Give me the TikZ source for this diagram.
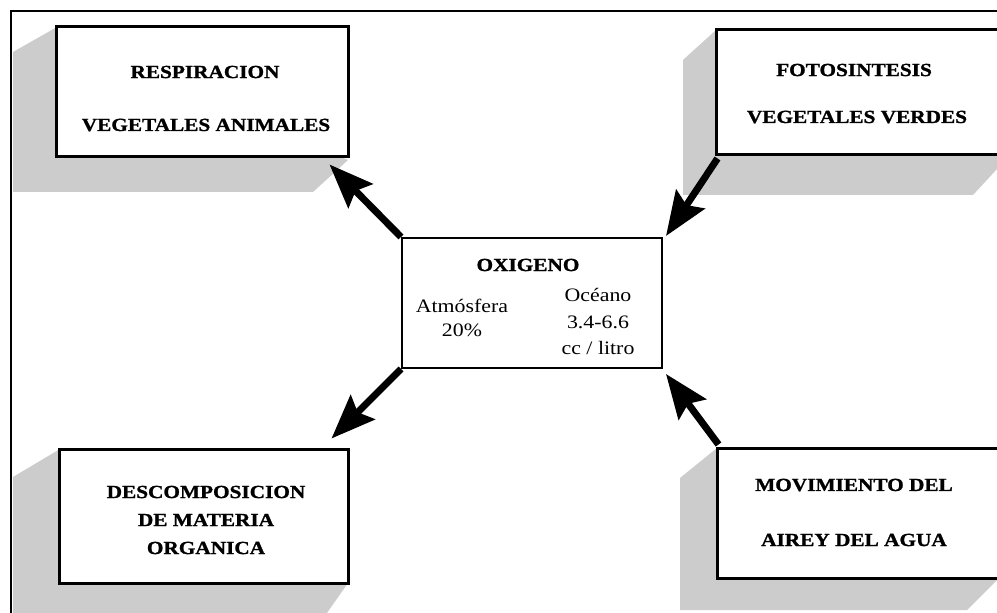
\documentclass[tikz,border=0pt]{standalone}
\usepackage{fontspec}
\setmainfont{Liberation Serif}[FakeStretch=1.15, BoldFeatures={FakeBold=1.2}]
\usetikzlibrary{arrows.meta}
\definecolor{shadowgray}{RGB}{204,204,204}
\tikzset{
  bigbox/.style={draw, line width=3bp, fill=white, inner sep=0pt},
  midbox/.style={draw, line width=2bp, fill=white, inner sep=0pt},
  shade/.style={fill=shadowgray, draw=none},
  btxt/.style={inner sep=0pt, font=\fontsize{18.5bp}{20bp}\selectfont\bfseries},
  rtxt/.style={inner sep=0pt, font=\fontsize{19bp}{21bp}\selectfont},
  fatarrow/.style={line width=7bp, -{Stealth[length=44bp,width=34bp,inset=7bp]}}
}
\begin{document}
\begin{tikzpicture}[x=1bp,y=-1bp]
\useasboundingbox (0,0) rectangle (997,613);
\clip (0,0) rectangle (997,613);
\fill[white] (0,0) rectangle (997,613);
% shadows
\fill[shade] (57,27) -- (13,52) -- (13,192) -- (313,192) -- (348,160) -- cycle;
\fill[shade] (716,30) -- (683,60) -- (683,195) -- (973,195) -- (1010,155) -- cycle;
\fill[shade] (60,449) -- (13,477) -- (13,620) -- (322,620) -- (348,583) -- cycle;
\fill[shade] (717,448) -- (680,478) -- (680,610) -- (967,610) -- (1005,572) -- cycle;
% frame
\draw[line width=2bp] (11,1000) -- (11,11) -- (1100,11);
% boxes
\node[bigbox, minimum width=291bp, minimum height=130bp] (tl) at (202.5,92) {};
\node[bigbox, minimum width=284bp, minimum height=125bp] (tr) at (858,92.5) {};
\node[bigbox, minimum width=288bp, minimum height=134bp] (bl) at (204,516) {};
\node[bigbox, minimum width=283bp, minimum height=130bp] (br) at (858.5,513) {};
\node[midbox, minimum width=260bp, minimum height=130bp] (c) at (532,303) {};
% texts
\node[btxt] (t1) at (205,72) {RESPIRACION};
\node[btxt] (t2) at (206,125) {VEGETALES ANIMALES};
\node[btxt] (t3) at (854,70) {FOTOSINTESIS};
\node[btxt] (t4) at (857,117) {VEGETALES VERDES};
\node[btxt] (t5) at (206,492) {DESCOMPOSICION};
\node[btxt] (t6) at (206,520) {DE MATERIA};
\node[btxt] (t7) at (206,548) {ORGANICA};
\node[btxt] (t8) at (854,485) {MOVIMIENTO DEL};
\node[btxt] (t9) at (854,540) {AIREY DEL AGUA};
\node[btxt] (c1) at (528,265) {OXIGENO};
\node[rtxt] (c2) at (462,306) {Atmósfera};
\node[rtxt] (c3) at (462,330) {20\%};
\node[rtxt] (c4) at (598,295) {Océano};
\node[rtxt] (c5) at (598,322) {3.4-6.6};
\node[rtxt] (c6) at (598,348) {cc / litro};
% arrows
\draw[fatarrow] (c.north west) -- ([shift={(-20,6)}]tl.south east);
\draw[fatarrow] ([shift={(3,2)}]tr.south west) -- ([shift={(3,-1)}]c.north east);
\draw[fatarrow] (c.south west) -- ([shift={(-18,-9)}]bl.north east);
\draw[fatarrow] ([shift={(3,-2)}]br.north west) -- ([shift={(3,5)}]c.south east);
\end{tikzpicture}
\end{document}
